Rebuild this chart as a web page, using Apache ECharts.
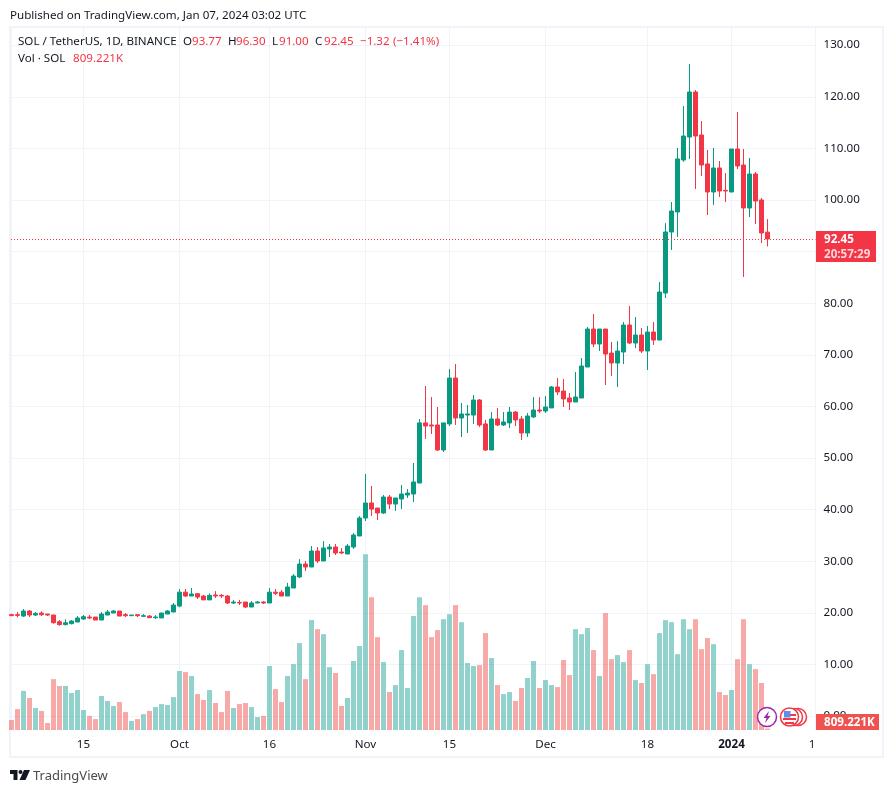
<!DOCTYPE html>
<html>
<head>
<meta charset="utf-8">
<style>
  html, body { margin: 0; padding: 0; background: #fff; }
  #main { width: 894px; height: 793px; }
</style>
<script src="https://cdn.jsdelivr.net/npm/echarts@6/dist/echarts.min.js"></script>
</head>
<body>
<div id="main"></div>
<script>
/* SOL / USDT daily, 3 Sep 2023 to 7 Jan 2024 */
var opens = [
  19.64,19.64,19.37,20.34,19.57,19.96,19.76,19.57,18.28,17.7,
  17.89,18.21,18.79,19.18,19.18,18.6,19.57,19.96,20.34,19.64,
  19.44,19.64,19.31,19.37,19.05,19,19.76,20.15,21.31,24,
  23.25,23.7,23.25,22.5,23.45,23.38,23.25,21.9,22,22.09,
  21.12,21.9,22.09,21.9,24,24,23.25,24.8,26.94,29.45,
  28.87,31.97,30.04,32.36,32.75,31.78,31.39,32.75,34.88,38.37,
  41.28,40.3,39.34,42.44,41.08,42.05,42.83,43.02,45.15,56.8,
  56.4,56.4,51.55,56.6,65.5,57.75,58.33,58.33,61.24,56.6,
  51.55,57.56,56.4,56.8,58.9,57.56,54.84,57.95,59.3,59.1,
  59.7,63.76,62.98,61.63,60.85,61.62,67.63,74.99,72.09,74.99,
  70.34,68.41,70.54,75.77,72.28,73.83,70.73,74.41,72.86,81.97,
  93.8,97.67,107.75,112.2,120.93,112.6,106.98,101.55,106.2,101.87,
  101.55,109.88,106.78,98.45,105.04,100,93.77
];
var closes = [
  19.44,19.5,20.34,19.57,19.89,19.63,19.57,18.08,17.7,18.08,
  18.4,18.99,19.25,18.99,18.6,19.76,20.15,20.34,19.37,19.44,
  19.57,19.44,19.44,19.05,19.18,19.96,20.34,21.5,24,23.25,
  23.64,23.06,22.5,23.38,23.25,23.25,21.9,22.09,21.9,21.12,
  21.9,22.09,21.9,24,23.77,23.25,25,27.13,29.45,28.87,
  31.97,30.04,32.56,32.75,31.59,31.59,32.94,35.07,38.37,41.28,
  40.1,39.34,42.44,41.08,42.25,43.02,43.2,45.35,56.8,56.2,
  56.2,51.55,56.8,65.5,57.75,58.53,58.53,61.24,56.4,51.55,
  57.56,56.4,56.98,58.9,57.37,54.84,58.14,59.3,59.1,59.88,
  63.76,62.8,61.43,60.85,61.82,67.83,74.99,72.09,74.99,70.15,
  68.41,70.73,75.77,72.28,73.83,70.73,74.41,72.86,82.17,93.8,
  97.87,107.95,112.4,120.93,112.4,106.78,101.55,106.2,101.74,101.74,
  109.88,106.59,98.45,105.04,99.8,93.6,92.45
];
var lows = [
  19.38,19.12,19.18,19.18,19.37,19.37,19.37,17.89,17.5,17.57,
  17.76,18.21,18.6,18.79,18.6,18.6,19.57,19.96,19.37,19.18,
  19.44,19.18,19.18,19,18.79,19,19.76,20.15,21.1,23.05,
  23.25,22.67,22.5,22.5,22.86,22.86,21.7,21.7,21.5,20.93,
  21.12,21.9,21.7,21.9,23.45,23.25,23.25,24.8,26.74,28.1,
  28.87,29.65,30.04,30.8,31.2,31.39,31.39,32.36,34.88,37.79,
  38.76,37.98,39.15,40.1,39.73,40.1,42.25,41.47,45.15,53.7,
  54.65,51.35,51.16,56.2,56.4,54.07,54.85,56.6,56,51.35,
  51.55,56.2,56.2,55.8,56.2,53.49,54.07,57.75,58.72,58.72,
  59.7,62.2,59.88,59.3,60.85,61.62,67.63,71.5,70.73,64.14,
  65.89,63.76,68.2,72.09,71.3,70.34,67.05,71.9,72.86,81,
  90.31,92.83,107.4,107.95,102.13,104.65,97.09,99.03,100.58,99.61,
  101.55,106,85.08,96.7,95.35,91.67,91
];
var highs = [
  19.83,20.15,20.73,20.54,20.15,20.28,19.76,19.57,18.6,18.73,
  18.6,19.37,19.57,19.57,19.18,20.15,20.54,20.54,20.34,19.96,
  19.57,19.76,19.76,19.57,19.57,19.96,20.54,21.9,24.6,24.6,
  24.8,23.83,23.45,23.77,24.2,23.64,23.45,22.5,22.5,22.09,
  22.28,22.28,22.28,24.8,24.6,24.4,25.8,27.5,30.4,30.04,
  32.94,32.75,33.9,33.33,33.33,32.56,33.33,35.46,38.76,46.9,
  44.57,40.3,42.83,42.83,42.25,44.77,44,49.03,57.56,63.95,
  61.8,59.88,56.8,67.25,68.2,60.66,60.27,62.2,61.43,57.37,
  58.9,59.7,58.9,59.88,59.1,58.14,58.72,61.8,61.8,62,
  63.95,65.5,65.3,62.6,66.66,69.38,75.38,77.9,74.99,74.99,
  72.48,72.67,76.35,79.45,77.32,75.19,75.58,76.35,84.1,95.5,
  99.61,110.08,118.2,126.36,121.3,115.3,109.69,110.08,107.56,105.23,
  109.88,117.05,109.88,108.14,105.43,100.4,96.3
];
// volume in millions of SOL
var volumes = [
  5.4,11.3,21.1,17.3,11.9,10.3,3.8,27.5,23.8,23.8,
  20,21.6,10.8,7.6,5.9,18.4,15.7,13,15.1,9.7,
  4.9,5.9,8.6,10.3,12.4,14,13.5,17.8,31.9,31.3,
  29.2,19.4,16.2,21.6,14.6,9.7,21.1,11.9,14,14.6,
  12.4,7,7.6,34.6,22.1,15.1,29.2,35.6,47,27.5,
  59.4,54.5,51.8,34,30.8,13,17.3,37.3,45.4,95,
  71.8,50.2,36.7,20.5,24.3,43.2,22.7,61.6,71.8,67.5,
  50.2,54,59.9,62.6,67.5,58.3,36.2,34.6,35.1,52.4,
  38.9,24.3,19.4,20.5,15.7,22.7,28.1,37.3,22.7,27,
  24.3,23.2,37.8,29.7,54.5,51.8,55.1,43.2,29.2,63.2,
  38.3,40.5,36.7,43.2,27,25.4,35.6,30.2,52.4,59.4,
  58.3,41,59.9,54.5,59.9,43.7,49.7,46.4,20.5,18.9,
  21.6,38.3,59.9,35.6,32.9,25.4,0.809
];
var priceTicks = [0,10,20,30,40,50,60,70,80,90,100,110,120,130];
var timeTickDays = [12,28,43,59,73,89,106,120,134];
var timeTickLabels = ['15','Oct','16','Nov','15','Dec','18','2024','15'];

var UP = '#089981', DOWN = '#f23645';
var GRIDLINE = '#f0f3fa', TEXT = '#131722', FONT = '"Noto Sans", sans-serif', FONT_SIZE = 11.6;

var candleData = [], volumeData = [];
for (var i = 0; i < opens.length; i++) {
  candleData.push([i, opens[i], closes[i], lows[i], highs[i]]);
  volumeData.push({
    value: [i, volumes[i]],
    itemStyle: { color: closes[i] >= opens[i] ? 'rgba(38,166,154,0.5)' : 'rgba(239,83,80,0.5)' }
  });
}

function txt(x, y, s, color, size, weight) {
  return {
    type: 'text', x: x, y: y + 1, z: 50, silent: true,
    style: { text: s, fill: color || TEXT, font: (weight || 'normal') + ' ' + (size || FONT_SIZE) + 'px ' + FONT, textVerticalAlign: 'middle' }
  };
}

var chart = echarts.init(document.getElementById('main'));
chart.setOption({
  animation: false,
  backgroundColor: '#fff',
  grid: [
    { left: 11, right: 78.5, top: 28, bottom: 63 },
    { left: 11, right: 78.5, top: 545, bottom: 63 }
  ],
  xAxis: [
    {
      type: 'value', gridIndex: 0, min: -1 / 12, max: 134,
      axisLine: { show: false },
      axisTick: { show: false, customValues: timeTickDays },
      splitLine: { show: true, lineStyle: { color: GRIDLINE, width: 1 } },
      axisLabel: {
        customValues: timeTickDays, margin: 9, color: TEXT, fontFamily: FONT, fontSize: FONT_SIZE,
        formatter: function (v) {
          var s = timeTickLabels[timeTickDays.indexOf(v)];
          return s === '2024' ? '{b|' + s + '}' : s;
        },
        rich: { b: { fontWeight: 'bold', fontSize: FONT_SIZE, fontFamily: FONT, color: TEXT } }
      }
    },
    {
      type: 'value', gridIndex: 1, min: -1 / 12, max: 134, show: false
    }
  ],
  yAxis: [
    {
      type: 'value', gridIndex: 0, position: 'right', min: -2.713, max: 133.33,
      axisLine: { show: true, lineStyle: { color: GRIDLINE } },
      axisTick: { show: false, customValues: priceTicks },
      splitLine: { show: true, lineStyle: { color: GRIDLINE, width: 1 } },
      axisLabel: {
        customValues: priceTicks, margin: 8, color: TEXT, fontFamily: FONT, fontSize: FONT_SIZE,
        padding: [3, 0, 0, 0],
        formatter: function (v) { return v.toFixed(2); }
      }
    },
    { type: 'value', gridIndex: 1, min: 0, max: 100, show: false }
  ],
  series: [
    {
      type: 'bar', name: 'Vol', xAxisIndex: 1, yAxisIndex: 1,
      barWidth: 5, data: volumeData, silent: true, z: 2
    },
    {
      type: 'candlestick', name: 'SOL', xAxisIndex: 0, yAxisIndex: 0,
      barWidth: 5, data: candleData, silent: true, z: 3,
      itemStyle: { color: UP, color0: DOWN, borderColor: UP, borderColor0: DOWN, borderWidth: 1 },
      markLine: {
        silent: true, symbol: 'none', label: { show: false },
        lineStyle: { color: DOWN, type: [1, 2], width: 1 },
        data: [{ yAxis: closes[closes.length - 1] }]
      }
    }
  ]
});

// header, legend, price tags and badges sit on top of the finished chart
var lastClose = closes[closes.length - 1];
var priceY = chart.convertToPixel({ yAxisIndex: 0 }, lastClose);
var baseY = chart.convertToPixel({ yAxisIndex: 1 }, 0);

chart.setOption({
  graphic: [
    // outer frame
    { type: 'rect', z: -1, silent: true, shape: { x: 10, y: 27, width: 873, height: 730 }, style: { fill: 'none', stroke: GRIDLINE, lineWidth: 2 } },
    // cover for the clipped last time label
    { type: 'rect', z: 40, silent: true, shape: { x: 816, y: 735, width: 66, height: 18 }, style: { fill: '#fff' } },

    txt(10, 15, 'Published on TradingView.com, Jan 07, 2024 03:02 UTC'),
    txt(18, 41, 'SOL / TetherUS, 1D, BINANCE'),
    txt(183, 41, 'O'), txt(192, 41, '93.77', DOWN),
    txt(228, 41, 'H'), txt(236, 41, '96.30', DOWN),
    txt(272, 41, 'L'), txt(279, 41, '91.00', DOWN),
    txt(315, 41, 'C'), txt(324, 41, '92.45', DOWN),
    txt(360, 41, '\u22121.32', DOWN), txt(393, 41, '(\u22121.41%)', DOWN),
    txt(18, 58, 'Vol \u00b7 SOL'), txt(73, 58, '809.221K', DOWN),

    // last price tag
    { type: 'rect', z: 45, silent: true, shape: { x: 816, y: priceY - 8, width: 60, height: 31 }, style: { fill: DOWN } },
    txt(824, priceY, '92.45', '#fff', FONT_SIZE, 'bold'),
    txt(824, priceY + 15, '20:57:29', 'rgba(255,255,255,0.8)', FONT_SIZE, 'bold'),

    // last volume tag
    { type: 'rect', z: 45, silent: true, shape: { x: 816, y: baseY - 16, width: 63, height: 16 }, style: { fill: '#ef5350' } },
    txt(824, baseY - 8, '809.221K', '#fff', FONT_SIZE, 'bold'),

    // badges
    { type: 'circle', z: 46, silent: true, shape: { cx: 767, cy: 717, r: 9.5 }, style: { fill: '#fff', stroke: '#9c27b0', lineWidth: 1.5 } },
    { type: 'polygon', z: 47, silent: true, shape: { points: [[769, 711], [763.5, 718], [766.5, 718], [765, 723], [770.5, 716], [767.5, 716]] }, style: { fill: '#9c27b0' } },
    { type: 'circle', z: 46, silent: true, shape: { cx: 798, cy: 717, r: 8.5 }, style: { fill: '#fff', stroke: DOWN, lineWidth: 1.5 } },
    { type: 'circle', z: 46, silent: true, shape: { cx: 794, cy: 717, r: 8.5 }, style: { fill: '#fff', stroke: DOWN, lineWidth: 1.5 } },
    { type: 'circle', z: 46, silent: true, shape: { cx: 789.5, cy: 717, r: 9 }, style: { fill: '#fff', stroke: DOWN, lineWidth: 1.5 } },
    { type: 'rect', z: 47, silent: true, shape: { x: 785, y: 714, width: 11, height: 2 }, style: { fill: DOWN } },
    { type: 'rect', z: 47, silent: true, shape: { x: 783, y: 718, width: 13, height: 2 }, style: { fill: DOWN } },
    { type: 'rect', z: 47, silent: true, shape: { x: 785, y: 722, width: 9, height: 2 }, style: { fill: DOWN } },
    { type: 'rect', z: 48, silent: true, shape: { x: 784, y: 711, width: 6.5, height: 6.5 }, style: { fill: '#5b8fe8' } },

    // bottom logo
    { type: 'polygon', z: 50, silent: true, shape: { points: [[10, 770], [17.5, 770], [17.5, 780], [13.5, 780], [13.5, 774], [10, 774]] }, style: { fill: TEXT } },
    { type: 'circle', z: 50, silent: true, shape: { cx: 20.5, cy: 772, r: 2 }, style: { fill: TEXT } },
    { type: 'polygon', z: 50, silent: true, shape: { points: [[24, 770], [30, 770], [25.5, 780], [19.5, 780]] }, style: { fill: TEXT } },
    txt(33, 775, 'TradingView', '#4a4a4a', 13)
  ]
});
</script>
</body>
</html>
